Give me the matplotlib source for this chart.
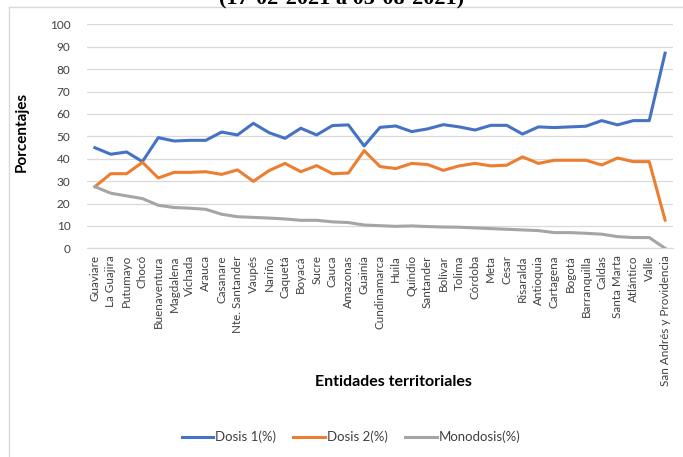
import numpy as np
import matplotlib.pyplot as plt
from matplotlib.lines import Line2D

plt.rcParams['font.family'] = ['Lato', 'DejaVu Sans']

entidades = ['Guaviare', 'La Guajira', 'Putumayo', 'Chocó', 'Buenaventura',
             'Magdalena', 'Vichada', 'Arauca', 'Casanare', 'Nte. Santander',
             'Vaupés', 'Nariño', 'Caquetá', 'Boyacá', 'Sucre', 'Cauca',
             'Amazonas', 'Guainía', 'Cundinamarca', 'Huila', 'Quíndio',
             'Santander', 'Bolívar', 'Tolima', 'Córdoba', 'Meta', 'Cesar',
             'Risaralda', 'Antioquia', 'Cartagena', 'Bogotá', 'Barranquilla',
             'Caldas', 'Santa Marta', 'Atlántico', 'Valle',
             'San Andrés y Providencia']

dosis1 = [44.9, 42.0, 43.0, 38.7, 49.4, 47.9, 48.2, 48.2, 51.9, 50.6,
          55.8, 51.6, 49.1, 53.6, 50.6, 54.8, 55.1, 45.7, 54.0, 54.6,
          52.1, 53.3, 55.2, 54.2, 52.8, 54.9, 54.9, 51.0, 54.2, 53.9,
          54.2, 54.5, 57.0, 55.1, 57.0, 57.0, 87.1]

dosis2 = [27.5, 33.3, 33.3, 38.4, 31.4, 33.9, 33.9, 34.2, 33.0, 35.0,
          29.9, 34.7, 37.9, 34.2, 36.9, 33.3, 33.6, 43.6, 36.5, 35.6,
          37.9, 37.4, 34.8, 36.8, 37.9, 36.8, 37.1, 40.8, 37.9, 39.3,
          39.3, 39.3, 37.2, 40.3, 38.7, 38.7, 12.6]

monodosis = [27.5, 24.6, 23.4, 22.2, 19.2, 18.2, 17.9, 17.4, 15.2, 14.1,
             13.8, 13.5, 13.1, 12.5, 12.5, 11.8, 11.5, 10.4, 10.1, 9.8,
             10.0, 9.7, 9.5, 9.4, 9.1, 8.8, 8.5, 8.2, 7.9, 7.0,
             7.0, 6.7, 6.3, 5.2, 4.8, 4.8, 0.0]

series = [('Dosis 1(%)', dosis1, '#4472C4'),
          ('Dosis 2(%)', dosis2, '#ED7D31'),
          ('Monodosis(%)', monodosis, '#A5A5A5')]

W, H = 683, 457
fig = plt.figure(figsize=(W / 100, H / 100), dpi=100)
ax = fig.add_axes([87 / W, 1 - 248.3 / H, (673 - 87) / W, (248.3 - 24.3) / H])

x = np.arange(len(entidades))
handles = []
for name, vals, col in series:
    ax.plot(x, vals, color=col, lw=2.2, solid_joinstyle='round', zorder=3)
    handles.append(Line2D([], [], color=col, lw=2.2, label=name))

ax.set_xlim(-0.5, len(entidades) - 0.5)
ax.set_ylim(0, 100)
ax.set_yticks(range(0, 101, 10))
ax.grid(axis='y', color='#D9D9D9', lw=0.9)
ax.set_axisbelow(True)
for s in ['top', 'right', 'left']:
    ax.spines[s].set_visible(False)
ax.spines['bottom'].set_color('#D9D9D9')
ax.spines['bottom'].set_linewidth(0.9)

ax.set_xticks(x)
ax.set_xticklabels(entidades, rotation=90, fontsize=8.4, color='#404040')
ax.tick_params(axis='x', length=0, pad=5)
ax.tick_params(axis='y', length=0, pad=12, labelsize=8.5, labelcolor='#404040')

fig.text(22 / W, 1 - 132 / H, 'Porcentajes', rotation=90, fontsize=11,
         fontweight='bold', ha='center', va='center')
fig.text(393 / W, 1 - 382 / H, 'Entidades territoriales', fontsize=11.5,
         fontweight='bold', ha='center', va='center')

# title sits mostly above the canvas edge
fig.text(342 / W, 1 - 4.5 / H, '(17-02-2021 a 05-08-2021)',
         family='Liberation Serif', fontsize=16, fontweight='bold',
         ha='center', va='baseline')

# chart frame, only the top and left edges stay inside the canvas
fig.add_artist(Line2D([9 / W, 9 / W], [0, 1 - 7 / H], transform=fig.transFigure,
                      color='#D9D9D9', lw=1))
fig.add_artist(Line2D([9 / W, 1], [1 - 7 / H, 1 - 7 / H], transform=fig.transFigure,
                      color='#D9D9D9', lw=1))

fig.legend(handles=handles, loc='center', bbox_to_anchor=(351 / W, 1 - 437 / H),
           ncol=3, frameon=False, fontsize=9.5, handlelength=2.4,
           handletextpad=0.15, columnspacing=1.3, labelcolor='#404040')

fig.savefig('out.png', dpi=100)
